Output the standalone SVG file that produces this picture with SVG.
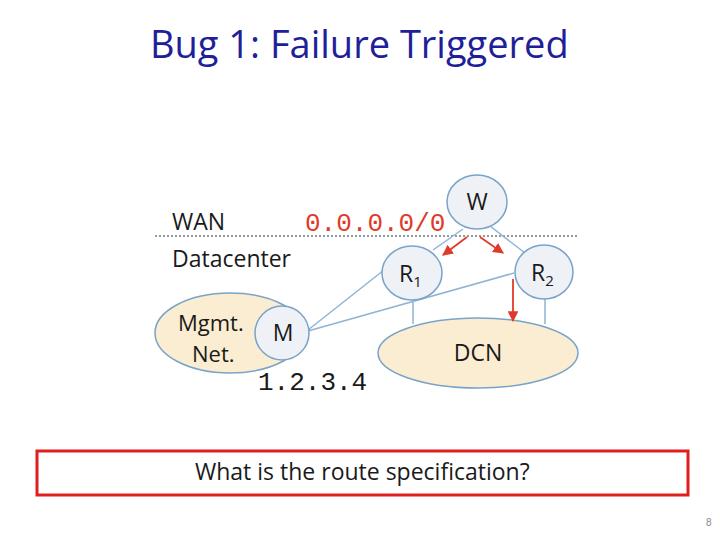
<svg xmlns="http://www.w3.org/2000/svg" width="720" height="540" viewBox="0 0 720 540">
<defs>
<style>
.t{font-family:"Open Sans","Liberation Sans",sans-serif;fill:#1a1a1a}
.m{font-family:"Liberation Mono","DejaVu Sans Mono",monospace}
.n{fill:#eef1f6;stroke:#7aa3c8;stroke-width:1.5}
.y{fill:#fbedd1;stroke:#7aa3c8;stroke-width:1.5}
.l{stroke:#8fb4d6;stroke-width:1.5;fill:none}
.r{stroke:#e03a2a;stroke-width:1.8;fill:none}
</style>
<marker id="a" viewBox="0 0 10 10" refX="9" refY="5" markerWidth="6" markerHeight="6" orient="auto"><path d="M0,0L10,5L0,10z" fill="#e03a2a"/></marker>
</defs>
<rect width="720" height="540" fill="#fff"/>
<text x="150" y="58" font-family="Open Sans,Liberation Sans,sans-serif" font-size="38" fill="#1f1f9a">Bug 1: Failure Triggered</text>
<line x1="155" y1="236" x2="578" y2="236" stroke="#777" stroke-width="1.5" stroke-dasharray="2,2"/>
<text class="t" x="172" y="230" font-size="23">WAN</text>
<text class="m" x="305" y="231" font-size="26" fill="#e03a2a">0.0.0.0/0</text>
<text class="t" x="172" y="267" font-size="23">Datacenter</text>
<g id="mgmt"><ellipse class="y" cx="230" cy="333" rx="75" ry="40"/><text class="t" x="178" y="331" font-size="22">Mgmt.</text><text class="t" x="192" y="362" font-size="22">Net.</text></g>
<g id="dcn"><ellipse class="y" cx="478" cy="353" rx="100" ry="35"/><text class="t" x="478" y="361" font-size="23" text-anchor="middle">DCN</text></g>
<g id="connectors">
<line class="l" x1="463" y1="229" x2="433" y2="250"/>
<line class="l" x1="490" y1="226" x2="525" y2="253"/>
<line class="l" x1="308" y1="330" x2="384" y2="270"/>
<line class="l" x1="308" y1="331" x2="514" y2="273"/>
<line class="l" x1="413" y1="300" x2="413" y2="324"/>
<line class="l" x1="545" y1="299" x2="545" y2="324"/>
<line class="r" x1="467" y1="237" x2="443" y2="255" marker-end="url(#a)"/>
<line class="r" x1="480" y1="237" x2="503" y2="253" marker-end="url(#a)"/>
<line class="r" x1="513" y1="279" x2="513" y2="321" marker-end="url(#a)"/>
</g>
<g id="W"><ellipse class="n" cx="477" cy="202" rx="30" ry="27"/><text class="t" x="477" y="210" font-size="23" text-anchor="middle">W</text></g>
<g id="R1"><ellipse class="n" cx="412" cy="273" rx="30" ry="27"/><text class="t" x="399" y="282" font-size="23">R<tspan font-size="15" dy="5">1</tspan></text></g>
<g id="R2"><ellipse class="n" cx="544" cy="272" rx="29" ry="27"/><text class="t" x="531" y="281" font-size="23">R<tspan font-size="15" dy="5">2</tspan></text></g>
<g id="M"><ellipse class="n" cx="282" cy="333" rx="27" ry="27"/><text class="t" x="283" y="341" font-size="23" text-anchor="middle">M</text></g>
<text class="m" x="258" y="390" font-size="26" fill="#1a1a1a">1.2.3.4</text>
<rect x="37" y="451" width="651" height="44" fill="none" stroke="#e01e1e" stroke-width="3"/>
<text class="t" x="195" y="480" font-size="23">What is the route specification?</text>
<text x="706" y="526" font-family="Liberation Sans,sans-serif" font-size="10" fill="#888">8</text>
</svg>
